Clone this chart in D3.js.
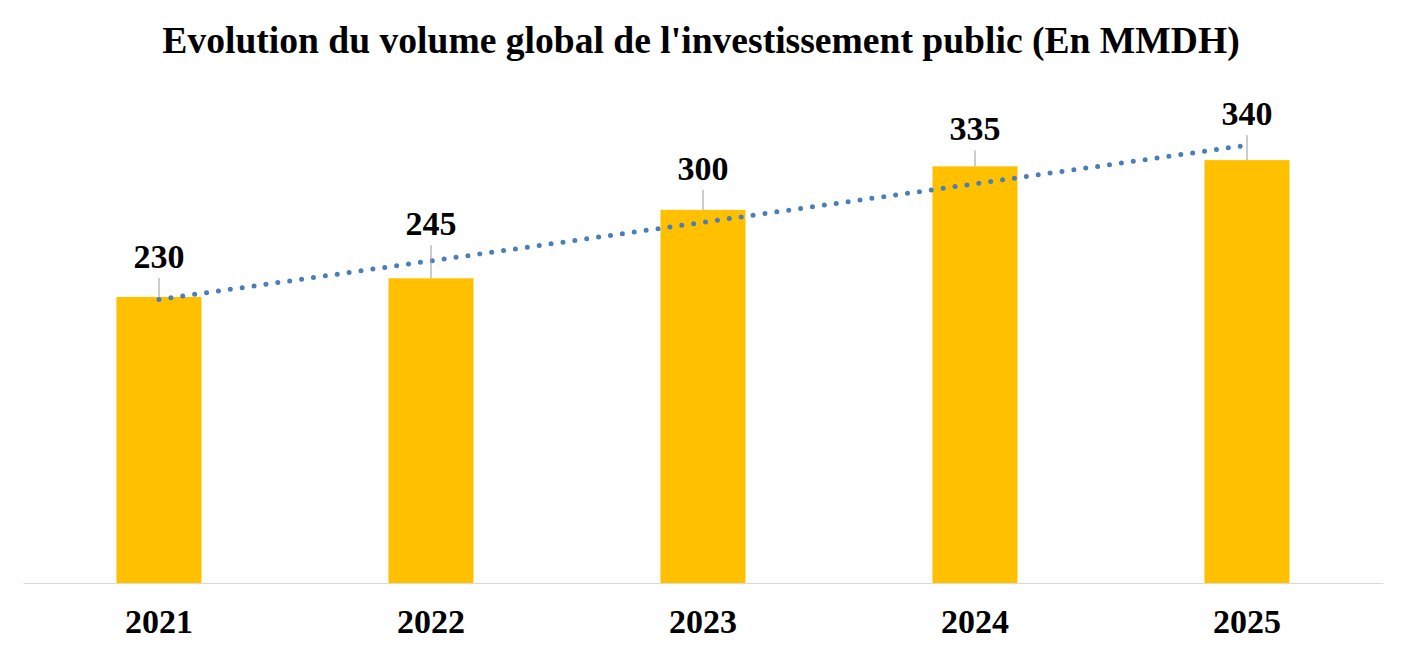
<!DOCTYPE html>
<html>
<head>
<meta charset="utf-8">
<script src="https://cdn.jsdelivr.net/npm/d3@7"></script>
<style>
  body { margin: 0; background: #fff; }
  svg { display: block; font-family: "Liberation Serif", "Times New Roman", serif; }
</style>
</head>
<body>
<svg id="chart" width="1406" height="654"></svg>
<script>
const years = ['2021', '2022', '2023', '2024', '2025'];
const volumes = [230, 245, 300, 335, 340];
// how far each value label sits above its bar (labels were dragged by hand)
const labelLift = [29, 43, 30, 26, 35];

const width = 1406, height = 654;
const margin = {left: 23, right: 23, bottom: 71};
const baseY = height - margin.bottom;

const svg = d3.select('#chart');

const x = d3.scaleBand()
  .domain(years)
  .range([margin.left, width - margin.right])
  .padding(0);
const barW = x.bandwidth() * 0.3125;

const y = d3.scaleLinear()
  .domain([0, 400])
  .range([baseY, 85.5]);

// title
svg.append('text')
  .attr('x', 701)
  .attr('y', 53)
  .attr('text-anchor', 'middle')
  .attr('font-size', 37.6)
  .attr('font-weight', 'bold')
  .text("Evolution du volume global de l'investissement public (En MMDH)");

// bars
svg.selectAll('.bar')
  .data(volumes)
  .enter().append('rect')
  .attr('class', 'bar')
  .attr('x', (d, i) => x(years[i]) + (x.bandwidth() - barW) / 2)
  .attr('width', barW)
  .attr('y', (d) => y(d))
  .attr('height', (d) => baseY - y(d))
  .attr('fill', '#FFC000');

// x axis
const xAxis = d3.axisBottom(x).tickSize(0).tickPadding(0);
const gx = svg.append('g')
  .attr('class', 'x axis')
  .attr('transform', 'translate(0,' + baseY + ')')
  .call(xAxis);
gx.select('.domain').attr('stroke', '#d9d9d9').attr('stroke-width', 1);
gx.selectAll('text')
  .attr('dy', null)
  .attr('y', 50)
  .attr('font-family', '"Liberation Serif", "Times New Roman", serif')
  .attr('font-size', 34)
  .attr('font-weight', 'bold')
  .attr('fill', '#000');

// linear trend (least squares over the bar values)
const n = volumes.length;
const mx = d3.mean(volumes, (d, i) => i);
const my = d3.mean(volumes);
const slope = d3.sum(volumes, (d, i) => (i - mx) * (d - my)) /
  d3.sum(volumes, (d, i) => (i - mx) * (i - mx));
const icpt = my - slope * mx;
const cx = (i) => x(years[i]) + x.bandwidth() / 2;

svg.append('path')
  .datum([0, n - 1])
  .attr('d', d3.line().x((i) => cx(i)).y((i) => y(icpt + slope * i)))
  .attr('fill', 'none')
  .attr('stroke', '#4A7EBB')
  .attr('stroke-width', 5)
  .attr('stroke-linecap', 'round')
  .attr('stroke-dasharray', '0 12');

// leader lines and value labels
const labels = svg.selectAll('.lbl')
  .data(volumes)
  .enter().append('g')
  .attr('class', 'lbl');

labels.append('line')
  .attr('x1', (d, i) => cx(i))
  .attr('x2', (d, i) => cx(i))
  .attr('y1', (d, i) => y(d) - labelLift[i] + 10)
  .attr('y2', (d) => y(d))
  .attr('stroke', '#999999')
  .attr('stroke-width', 1);

labels.append('text')
  .attr('x', (d, i) => cx(i))
  .attr('y', (d, i) => y(d) - labelLift[i])
  .attr('text-anchor', 'middle')
  .attr('font-size', 34)
  .attr('font-weight', 'bold')
  .text((d) => d);
</script>
</body>
</html>
